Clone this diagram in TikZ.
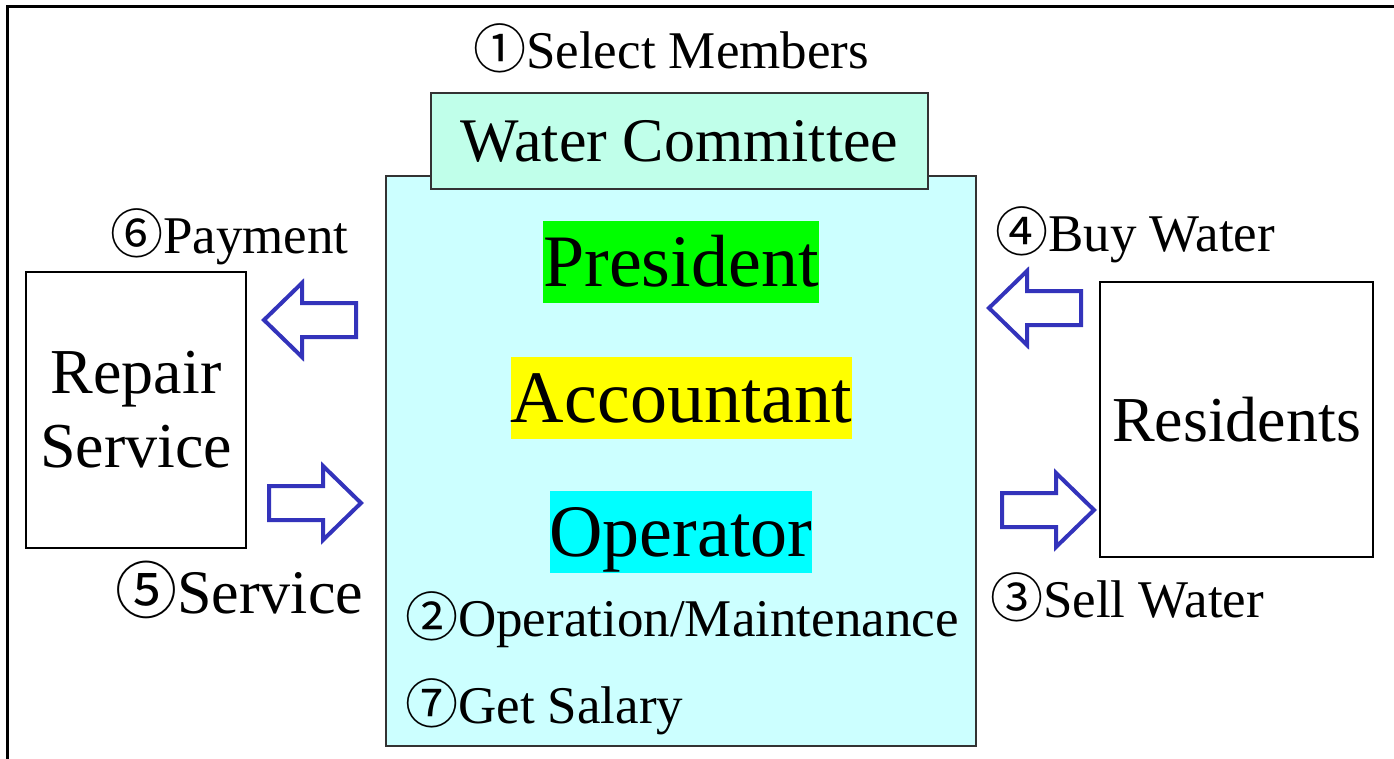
\documentclass[tikz,border=0pt]{standalone}
\usepackage{fontspec}
\setmainfont{Liberation Serif}
\newfontfamily\circfont{Noto Sans CJK JP}
\usetikzlibrary{positioning}
\usepackage{xcolor}
\definecolor{panelcyan}{RGB}{204,255,255}
\definecolor{headmint}{RGB}{192,255,234}
\definecolor{arrowblue}{RGB}{51,51,187}
\definecolor{hlgreen}{RGB}{0,255,0}
\definecolor{hlyellow}{RGB}{255,255,0}
\definecolor{hlcyan}{RGB}{0,255,255}
\newcommand{\cnum}[1]{{\circfont #1}}

\tikzset{
  lbl/.style={anchor=base west, inner sep=0pt, font=\fontsize{53}{60}\selectfont},
  party/.style={draw=black, line width=2pt, fill=white, align=center, inner sep=0pt, font=\fontsize{64}{74}\selectfont},
  role/.style={inner sep=0pt, text height=66pt, text depth=16pt, font=\fontsize{74}{80}\selectfont},
  blockarrow/.pic={
    \draw[arrowblue, line width=4pt, fill=white, line join=miter]
      (0,-17) -- (54,-17) -- (54,-37) -- (92,0) -- (54,37) -- (54,17) -- (0,17) -- cycle;
  }
}

\begin{document}
\begin{tikzpicture}[x=1pt,y=-1pt]
\useasboundingbox (0,0) rectangle (1394,759);

%frame
\draw[line width=3pt] (7,759) -- (7,7) -- (1394,7);

%committee
\node[draw=black!80, line width=2pt, fill=panelcyan, minimum width=590pt, minimum height=570pt] (panel) at (681,461) {};
\node[draw=black!80, line width=2pt, fill=headmint, minimum width=497pt, minimum height=96pt, inner sep=0pt,
      font=\fontsize{62}{70}\selectfont] (committee) at (679.5,141) {Water Committee};

%roles
\node[role, fill=hlgreen] (president) at (681,262) {President};
\node[role, fill=hlyellow] (accountant) at (681.5,397.5) {Accountant};
\node[role, fill=hlcyan] (operator) at (681,531.5) {Operator};

%parties
\node[party, minimum width=220pt, minimum height=276pt] (repair) at (136,410) {Repair\\Service};
\node[party, minimum width=273pt, minimum height=275pt] (residents) at (1236.5,419.5) {Residents};

%arrows
\pic[rotate=180] (payarrow) at (356,320) {blockarrow};
\pic (servarrow) at (269,503) {blockarrow};
\pic[rotate=180] (buyarrow) at (1081,308) {blockarrow};
\pic (sellarrow) at (1002,510) {blockarrow};

%labels
\node[lbl] (select) at (473,69) {\cnum{①}Select Members};
\node[lbl] (payment) at (110,254) {\cnum{⑥}Payment};
\node[lbl] (buy) at (995,252) {\cnum{④}Buy Water};
\node[lbl, font=\fontsize{62}{70}\selectfont] (service) at (115,613) {\cnum{⑤}Service};
\node[lbl] (sell) at (990,617) {\cnum{③}Sell Water};
\node[lbl] (operation) at (405,636) {\cnum{②}Operation/Maintenance};
\node[lbl] (salary) at (405,723) {\cnum{⑦}Get Salary};
\end{tikzpicture}
\end{document}
